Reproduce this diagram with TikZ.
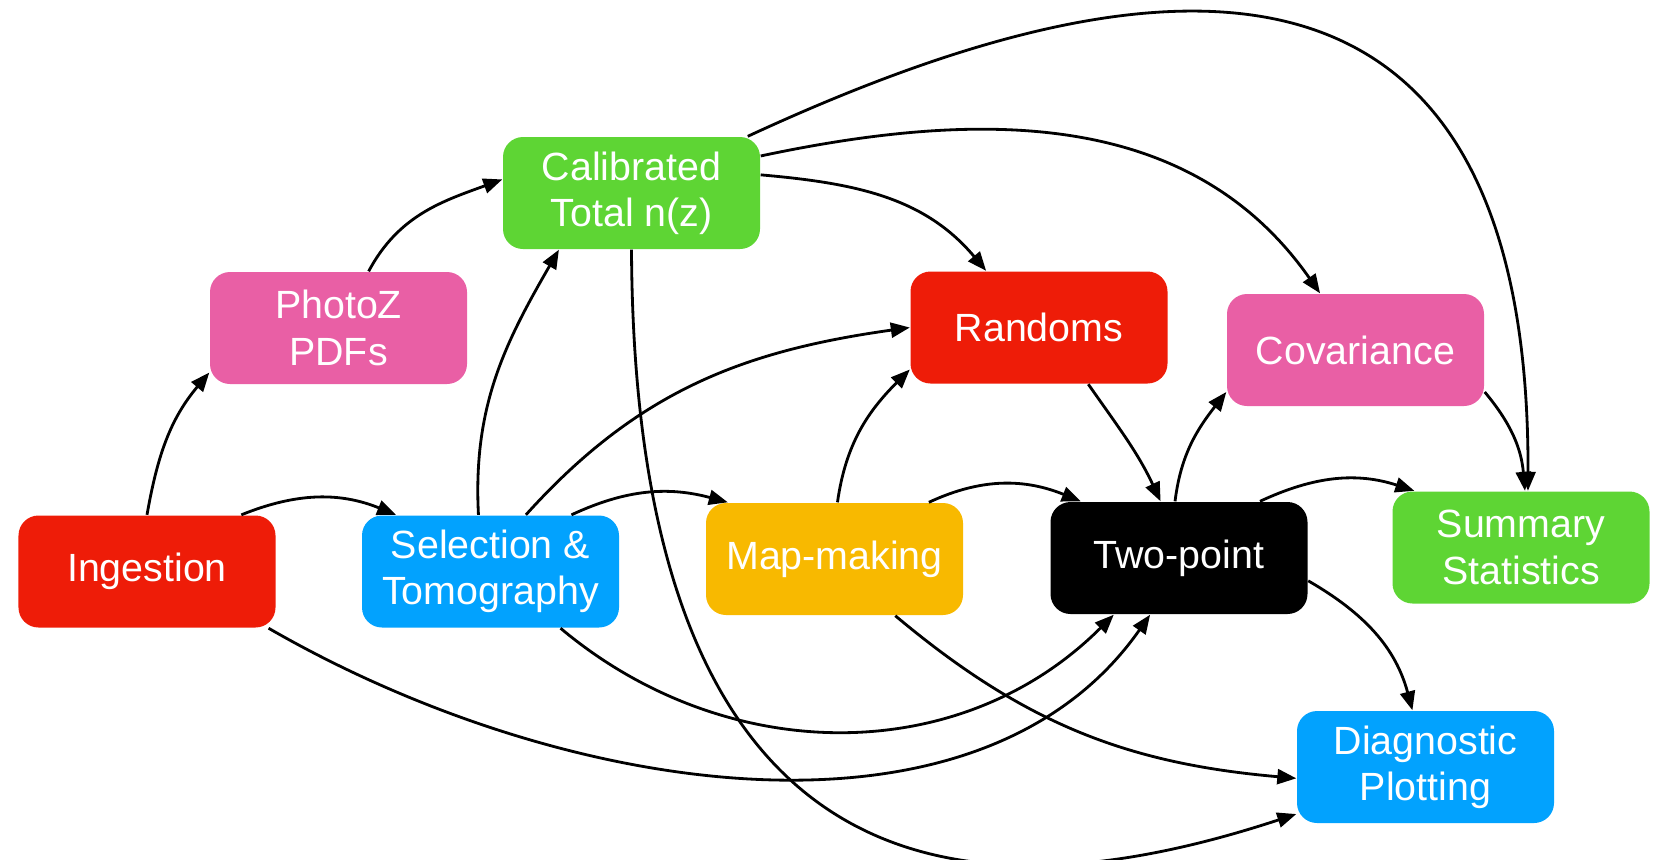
\documentclass[tikz,border=0pt]{standalone}
\usepackage{fontspec}
\setmainfont{Liberation Sans}
\usetikzlibrary{arrows.meta}
\definecolor{stagered}{RGB}{238,28,8}
\definecolor{stagepink}{RGB}{233,95,165}
\definecolor{stagegreen}{RGB}{94,213,52}
\definecolor{stageblue}{RGB}{2,162,254}
\definecolor{stageyellow}{RGB}{248,185,0}
\tikzset{
	stage/.style={rounded corners=2mm, minimum width=2.57cm, minimum height=1.12cm,
		inner sep=0pt, align=center, text=white, font=\fontsize{11.2}{13.2}\selectfont},
	flow/.style={-{Triangle[length=1.9mm,width=1.5mm]}, line width=0.8pt}
}
\begin{document}
\begin{tikzpicture}
	\useasboundingbox (0,0) rectangle (16.57,-8.59);
	% stages
	\node[stage,fill=stagered] (ingest) at (1.47,-5.715) {Ingestion};
	\node[stage,fill=stageblue] (select) at (4.905,-5.715) {Selection \&\\Tomography};
	\node[stage,fill=stagepink] (photoz) at (3.385,-3.28) {PhotoZ\\PDFs};
	\node[stage,fill=stagegreen] (calib) at (6.315,-1.93) {Calibrated\\Total n(z)};
	\node[stage,fill=stagered] (randoms) at (10.39,-3.275) {Randoms};
	\node[stage,fill=stagepink] (covar) at (13.555,-3.50) {Covariance};
	\node[stage,fill=stageyellow] (mapmk) at (8.345,-5.59) {Map-making};
	\node[stage,fill=black] (twopt) at (11.79,-5.58) {Two-point};
	\node[stage,fill=stagegreen] (summ) at (15.21,-5.475) {Summary\\Statistics};
	\node[stage,fill=stageblue] (diag) at (14.255,-7.67) {Diagnostic\\Plotting};
	% dependencies
	\draw[flow] (ingest.north) to[out=80,in=230] (photoz.199);
	\draw[flow] (photoz.62) to[out=62,in=200] (calib.174);
	\draw[flow] (ingest.31) to[out=22,in=158] (select.149);
	\draw[flow] (select.102) to[out=93,in=240] (calib.218);
	\draw[flow] (select.58) to[out=48,in=188] (randoms.west);
	\draw[flow] (select.35) to[out=25,in=165] (mapmk.152);
	\draw[flow] (mapmk.87) to[out=82,in=225] (randoms.198);
	\draw[flow] (mapmk.31) to[out=25,in=158] (twopt.150);
	\draw[flow] (randoms.-49) to[out=-55,in=115] (twopt.108);
	\draw[flow] (twopt.94) to[out=83,in=232] (covar.198);
	\draw[flow] (twopt.35) to[out=25,in=162] (summ.152);
	\draw[flow] (covar.-18) to[out=-50,in=95] (summ.86);
	\draw[flow] (calib.26) .. controls +(3.5,1.62) and +(0.02,6.2) .. (summ.83);
	\draw[flow] (calib.16) to[out=12,in=125] (covar.122);
	\draw[flow] (calib.8) to[out=-5,in=130] (randoms.133);
	\draw[flow] (calib.south) .. controls +(0.03,-6.42) and +(-3.37,-1.11) .. (diag.200);
	\draw[flow] (select.-39) to[out=-40,in=225] (twopt.221);
	\draw[flow] (ingest.-25) to[out=-30,in=235,out distance=3.4cm,in distance=3cm] (twopt.243);
	\draw[flow] (mapmk.-43) to[out=-40,in=175] (diag.185);
	\draw[flow] (twopt.-10) to[out=-30,in=105] (diag.103);
\end{tikzpicture}
\end{document}
